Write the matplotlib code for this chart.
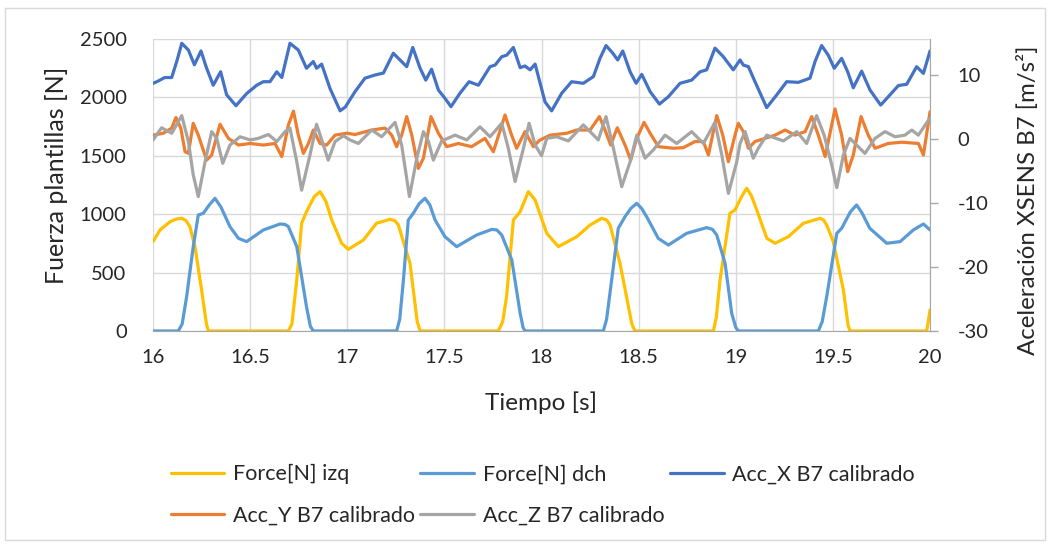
import matplotlib
matplotlib.use("Agg")
import matplotlib.pyplot as plt
from matplotlib.patches import Rectangle

# Insole force (N) -- left foot
t_izq = [16.000, 16.036, 16.088, 16.120, 16.148, 16.170, 16.190, 16.216, 16.250, 16.275, 16.285, 16.697, 16.715, 16.740,
         16.765, 16.790, 16.830, 16.860, 16.890, 16.920, 16.971, 17.005, 17.083, 17.150, 17.220, 17.245, 17.263, 17.323, 17.360,
         17.375, 17.778, 17.800, 17.820, 17.855, 17.890, 17.932, 17.967, 18.027, 18.087, 18.181, 18.250,
         18.310, 18.335, 18.353, 18.404, 18.465, 18.481, 18.885, 18.900, 18.919, 18.970, 18.996, 19.030, 19.056, 19.080, 19.108,
         19.160, 19.202, 19.270, 19.348, 19.434, 19.452, 19.468, 19.502, 19.554, 19.578, 19.588, 19.983, 20.000]
f_izq = [765, 865, 936, 958, 965, 945, 893, 722, 351, 60, 0, 0, 60, 437,
         922, 1021, 1150, 1193, 1110, 950, 751, 699, 779, 922, 956, 945, 907, 579, 80,
         0, 0, 80, 294, 950, 1021, 1193, 1122, 836, 722, 807, 907,
         965, 950, 907, 579, 60, 0, 0, 120, 437, 1008, 1036, 1150, 1222, 1160, 1036,
         793, 751, 807, 922, 965, 950, 907, 765, 351, 50, 0, 0, 180]

# Insole force (N) -- right foot
t_dch = [16.000, 16.130, 16.150, 16.173, 16.207, 16.233, 16.259, 16.290, 16.319, 16.350, 16.396, 16.440, 16.482, 16.568,
         16.654, 16.680, 16.697, 16.740, 16.790, 16.810, 16.825, 17.254, 17.270, 17.289, 17.314, 17.340, 17.370, 17.400,
         17.425, 17.452, 17.503, 17.563, 17.666, 17.744, 17.770, 17.795, 17.847, 17.890, 17.905, 17.915, 18.318, 18.335,
         18.361, 18.395, 18.430, 18.460, 18.490, 18.515, 18.541, 18.601, 18.653, 18.747, 18.850, 18.880, 18.902, 18.945, 18.979,
         19.000, 19.013, 19.425, 19.445, 19.468, 19.520, 19.545, 19.590, 19.622, 19.650, 19.690, 19.777, 19.846, 19.914,
         19.966, 20.000]
f_dch = [0, 0, 60, 294, 722, 993, 1008, 1080, 1136, 1060, 893, 793, 765, 865,
         916, 912, 893, 722, 208, 40, 0, 0, 100, 437, 950, 1008, 1090, 1136,
         1080, 950, 807, 722, 822, 870, 865, 822, 608, 151, 30, 0, 0, 100,
         437, 879, 979, 1050, 1093, 1050, 979, 793, 736, 836, 885, 870, 822, 579, 151,
         30, 0, 0, 80, 294, 836, 879, 1020, 1079, 1010, 879, 751, 765, 865,
         916, 865]

# Calibrated accelerations of sensor B7 (m/s^2)
t_accx = [16.000, 16.020, 16.060, 16.096, 16.122, 16.148, 16.182, 16.213, 16.247, 16.276, 16.310, 16.348,
          16.379, 16.427, 16.482, 16.534, 16.568, 16.602, 16.637, 16.663, 16.705, 16.748, 16.790, 16.825,
          16.842, 16.868, 16.911, 16.963, 16.990, 17.040, 17.091, 17.143, 17.186, 17.237, 17.263, 17.306,
          17.337, 17.375, 17.404, 17.434, 17.469, 17.503, 17.534, 17.580, 17.627, 17.675, 17.735, 17.761,
          17.795, 17.821, 17.855, 17.890, 17.915, 17.941, 17.967, 18.018, 18.052, 18.104, 18.155, 18.215,
          18.267, 18.301, 18.332, 18.367, 18.392, 18.418, 18.456, 18.487, 18.516, 18.559, 18.607, 18.653,
          18.713, 18.773, 18.816, 18.850, 18.893, 18.936, 18.987, 19.022, 19.039, 19.065, 19.099, 19.159,
          19.211, 19.262, 19.322, 19.382, 19.408, 19.442, 19.476, 19.507, 19.545, 19.576, 19.605, 19.648,
          19.691, 19.746, 19.794, 19.837, 19.880, 19.931, 19.966, 20.000]
acc_x = [8.7, 8.95, 9.6, 9.6, 12.1, 14.95, 13.9, 11.6, 13.75, 11.05, 8.4, 10.5,
         6.9, 5.2, 7.1, 8.4, 8.95, 8.95, 10.5, 9.6, 14.95, 13.9, 11.05, 12.1,
         11.05, 11.7, 7.9, 4.4, 5.0, 7.4, 9.5, 10.0, 10.3, 13.4, 12.6, 11.3,
         14.3, 11.05, 9.2, 10.9, 7.65, 6.35, 5.05, 7.15, 8.95, 8.4, 11.3, 11.55,
         12.85, 13.1, 14.3, 11.15, 11.4, 10.8, 11.7, 5.8, 4.4, 7.15, 8.95, 8.7,
         9.75, 12.6, 14.6, 13.4, 12.35, 13.75, 10.5, 8.7, 10.1, 7.4, 5.45, 6.6,
         8.7, 9.2, 10.5, 10.8, 14.2, 12.85, 10.8, 12.35, 11.55, 11.3, 8.95, 4.9,
         6.9, 8.95, 8.85, 9.5, 12.1, 14.6, 13.1, 11.05, 12.6, 10.5, 8.0, 10.6,
         7.65, 5.3, 6.9, 8.35, 8.55, 11.3, 10.25, 13.75]

t_accy = [16.000, 16.053, 16.096, 16.118, 16.143, 16.165, 16.182, 16.207, 16.233, 16.276, 16.302, 16.345,
          16.388, 16.440, 16.500, 16.568, 16.628, 16.663, 16.697, 16.723, 16.748, 16.774, 16.800, 16.825,
          16.860, 16.894, 16.937, 16.997, 17.040, 17.126, 17.194, 17.229, 17.254, 17.280, 17.306, 17.332,
          17.366, 17.392, 17.431, 17.469, 17.512, 17.572, 17.640, 17.709, 17.752, 17.812, 17.846, 17.872,
          17.915, 17.958, 17.990, 18.044, 18.130, 18.181, 18.250, 18.298, 18.327, 18.356, 18.390, 18.430,
          18.459, 18.490, 18.528, 18.559, 18.602, 18.679, 18.730, 18.790, 18.833, 18.859, 18.902, 18.933,
          18.962, 18.996, 19.013, 19.039, 19.065, 19.099, 19.151, 19.202, 19.254, 19.305, 19.357, 19.391,
          19.425, 19.460, 19.511, 19.545, 19.576, 19.605, 19.645, 19.682, 19.717, 19.785, 19.854, 19.940,
          19.966, 20.000]
acc_y = [0.6, 0.9, 1.7, 3.35, 1.7, -2.0, -2.25, 2.45, 0.6, -3.3, -2.5, 2.3,
         0.1, -0.95, -0.7, -0.95, -0.7, -2.75, 2.2, 4.35, 0.6, -2.25, -0.7, 1.4,
         -0.7, -0.95, 0.6, 0.9, 0.7, 1.4, 1.7, 0.6, -1.2, 0.6, 3.5, 0.6,
         -4.6, -3.0, 3.5, 0.9, -1.2, -0.7, -1.2, 0.1, -2.0, 3.75, 0.6, -1.45,
         1.15, -1.2, -0.2, 0.6, 0.9, 1.4, 1.4, 3.5, 1.4, -0.95, 1.75, -0.95,
         -3.3, 0.1, 2.6, 0.9, -1.2, -1.45, -1.35, -0.4, -0.4, -2.5, 3.65, 0.6,
         -3.55, 0.6, 2.45, 1.15, -1.45, -0.4, 0.1, 0.6, 1.4, 0.6, 1.15, 3.5,
         0.6, -2.75, 4.7, 0.6, -5.1, -2.5, 3.5, 0.6, -1.45, -0.7, -0.5, -0.7,
         -2.5, 4.25]

t_accz = [16.000, 16.044, 16.096, 16.148, 16.182, 16.207, 16.233, 16.268, 16.302, 16.328, 16.359, 16.396,
          16.448, 16.500, 16.542, 16.594, 16.637, 16.680, 16.705, 16.740, 16.765, 16.808, 16.842, 16.877,
          16.902, 16.937, 16.980, 17.014, 17.057, 17.126, 17.177, 17.246, 17.280, 17.320, 17.358, 17.392,
          17.418, 17.443, 17.486, 17.555, 17.615, 17.683, 17.735, 17.795, 17.829, 17.864, 17.907, 17.936,
          17.967, 18.000, 18.027, 18.078, 18.138, 18.215, 18.250, 18.292, 18.332, 18.370, 18.413, 18.456,
          18.490, 18.533, 18.576, 18.636, 18.696, 18.773, 18.833, 18.893, 18.928, 18.962, 19.005, 19.022,
          19.048, 19.090, 19.116, 19.159, 19.245, 19.314, 19.365, 19.416, 19.455, 19.494, 19.520, 19.554,
          19.588, 19.622, 19.665, 19.717, 19.768, 19.820, 19.871, 19.906, 19.940, 19.992, 20.000]
acc_z = [-0.15, 1.75, 0.9, 3.65, -0.4, -5.6, -9.0, -3.55, 1.15, 0.1, -3.8, -0.95,
         0.35, -0.15, 0.1, 0.7, -0.4, 1.15, 1.7, -3.55, -8.0, -2.5, 2.3, -0.95,
         -3.3, -0.4, 0.5, -0.15, -0.7, 1.4, 0.35, 2.6, -0.95, -9.0, -3.0, 1.15,
         -0.4, -3.3, -0.3, 0.6, -0.15, 1.9, 0.35, 2.45, -1.45, -6.65, -1.45, 2.45,
         -0.95, -2.6, 0.1, 0.35, -0.3, 2.2, 1.15, -0.15, 3.5, -1.45, -7.45, -3.55,
         0.6, -3.0, -1.7, 0.6, -0.7, 1.15, -0.7, 2.6, -2.5, -8.5, -3.55, -0.7,
         1.15, -3.0, -1.45, 0.6, -0.3, 1.15, -0.7, 3.65, 0.6, -4.05, -7.6, -2.5,
         0.1, -0.95, -2.25, 0.1, 1.15, 0.35, 0.6, 1.4, 0.6, 2.95, 3.2]

x_ticks = [16, 16.5, 17, 17.5, 18, 18.5, 19, 19.5, 20]
x_tick_labels = ["16", "16.5", "17", "17.5", "18", "18.5", "19", "19.5", "20"]
force_ticks = [0, 500, 1000, 1500, 2000, 2500]
acc_ticks = [-30, -20, -10, 0, 10]

plt.rcParams["font.family"] = ["Lato", "DejaVu Sans"]
plt.rcParams["axes.unicode_minus"] = False
TXT = "#262626"
GRID = "#D9D9D9"
AXIS = "#A6A6A6"
LW = 2.3

fig = plt.figure(figsize=(10.51, 5.46), dpi=100)
fig.patches.append(Rectangle((0.005, 0.011), 0.989, 0.975, transform=fig.transFigure,
                             fill=False, edgecolor=GRID, linewidth=1.0))

ax = fig.add_axes([0.1456, 0.3938, 0.7393, 0.5348])
ax2 = ax.twinx()

kw = dict(lw=LW, solid_joinstyle="round", solid_capstyle="round")
l_izq, = ax.plot(t_izq, f_izq, color="#FFC000", label="Force[N] izq", **kw)
l_dch, = ax.plot(t_dch, f_dch, color="#5B9BD5", label="Force[N] dch", **kw)
l_x, = ax2.plot(t_accx, acc_x, color="#4472C4", label="Acc_X B7 calibrado", **kw)
l_y, = ax2.plot(t_accy, acc_y, color="#ED7D31", label="Acc_Y B7 calibrado", **kw)
l_z, = ax2.plot(t_accz, acc_z, color="#A5A5A5", label="Acc_Z B7 calibrado", **kw)

ax.set_xlim(16, 20)
ax.set_ylim(0, 2500)
ax2.set_ylim(-30, 15.625)

ax.set_xticks(x_ticks)
ax.set_xticklabels(x_tick_labels)
ax.set_yticks(force_ticks)
ax2.set_yticks(acc_ticks)

ax.grid(True, color=GRID, lw=1.0)
ax.set_axisbelow(True)
for s in ("left", "top", "right"):
    ax.spines[s].set_visible(False)
for s in ("left", "top", "bottom"):
    ax2.spines[s].set_visible(False)
ax.spines["bottom"].set_color(AXIS)
ax2.spines["right"].set_color(AXIS)

ax.tick_params(axis="y", length=0, pad=19, labelsize=14.5, labelcolor=TXT)
ax.tick_params(axis="x", length=0, pad=13, labelsize=14.5, labelcolor=TXT)
ax2.tick_params(axis="y", length=6, width=1, color=AXIS, pad=14, labelsize=14.5, labelcolor=TXT)

fig.text(0.054, 0.678, "Fuerza plantillas [N]", rotation=90, ha="center", va="center",
         fontsize=18, color=TXT)
fig.text(0.978, 0.634, "Aceleración XSENS B7 [m/s²]", rotation=90, ha="center", va="center",
         fontsize=17.3, color=TXT)
fig.text(0.515, 0.262, "Tiempo [s]", ha="center", va="center", fontsize=17.5, color=TXT)

handles = [l_izq, l_y, l_dch, l_z, l_x]
leg = fig.legend(handles=handles, labels=[h.get_label() for h in handles], ncol=3,
                 loc="center left", bbox_to_anchor=(0.152, 0.0934), frameon=False,
                 fontsize=15.5, handlelength=2.5, handletextpad=0.4, columnspacing=0.25,
                 labelspacing=1.0, borderpad=0)
for txt in leg.get_texts():
    txt.set_color(TXT)

fig.savefig("out.png", dpi=100)
